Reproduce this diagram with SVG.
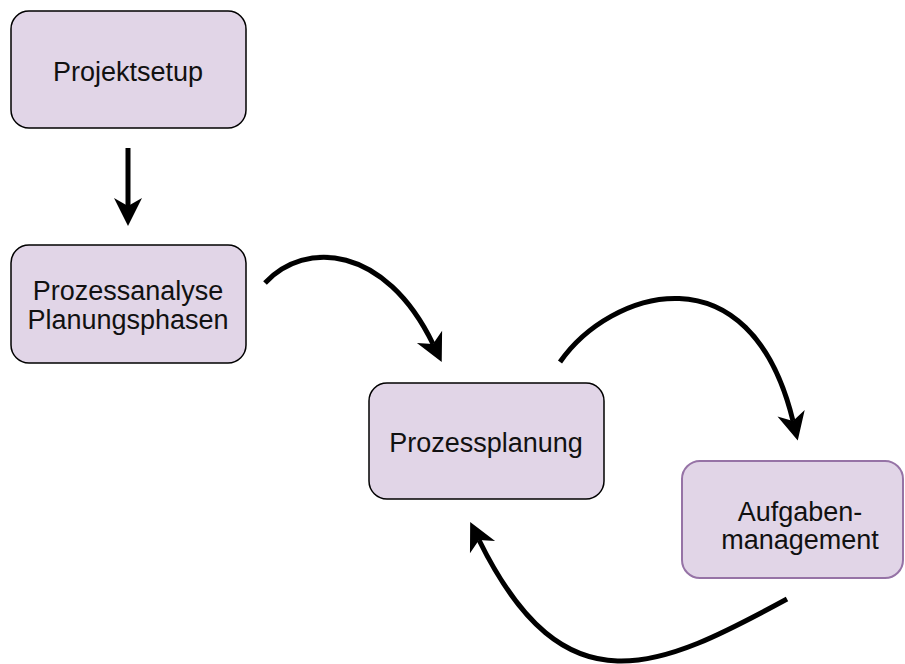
<svg xmlns="http://www.w3.org/2000/svg" width="905" height="664" viewBox="0 0 905 664">
  <style>
    .box { fill: #e1d5e7; stroke: #000; stroke-width: 1.5; }
    .box-alt { fill: #e1d5e7; stroke: #9673a6; stroke-width: 2; }
    .label { font-family: "Liberation Sans", Arial, sans-serif; font-size: 27px; fill: #111; text-anchor: middle; }
    .edge { fill: none; stroke: #000; stroke-width: 5; }
  </style>
  <defs>
    <marker id="arrow" markerUnits="userSpaceOnUse" markerWidth="30" markerHeight="30" viewBox="0 -15 30 30" refX="8" refY="0" orient="auto" overflow="visible">
      <path d="M0,-14 L28,0 L0,14 L8,0 Z" fill="#000"/>
    </marker>
  </defs>
  <rect width="905" height="664" fill="#fff"/>

  <g id="connectors">
    <path class="edge" d="M128,148 L128,206" marker-end="url(#arrow)"/>
    <path class="edge" d="M265,283 C305,240 385,245 433,344" marker-end="url(#arrow)"/>
    <path class="edge" d="M560,362 C610,290 750,245 793,421" marker-end="url(#arrow)"/>
    <path class="edge" d="M787,599 C660,668 565,715 479,540" marker-end="url(#arrow)"/>
  </g>

  <g id="projektsetup">
    <rect class="box" x="11" y="11" width="235" height="117" rx="18"/>
    <text class="label" x="128" y="81">Projektsetup</text>
  </g>

  <g id="prozessanalyse">
    <rect class="box" x="11" y="245" width="235" height="118" rx="18"/>
    <text class="label" x="128" y="300">Prozessanalyse</text>
    <text class="label" x="128" y="329">Planungsphasen</text>
  </g>

  <g id="prozessplanung">
    <rect class="box" x="369" y="383" width="235" height="116" rx="18"/>
    <text class="label" x="486" y="452">Prozessplanung</text>
  </g>

  <g id="aufgabenmanagement">
    <rect class="box-alt" x="682" y="461" width="221" height="117" rx="18"/>
    <text class="label" x="800" y="521">Aufgaben-</text>
    <text class="label" x="800" y="549">management</text>
  </g>
</svg>
